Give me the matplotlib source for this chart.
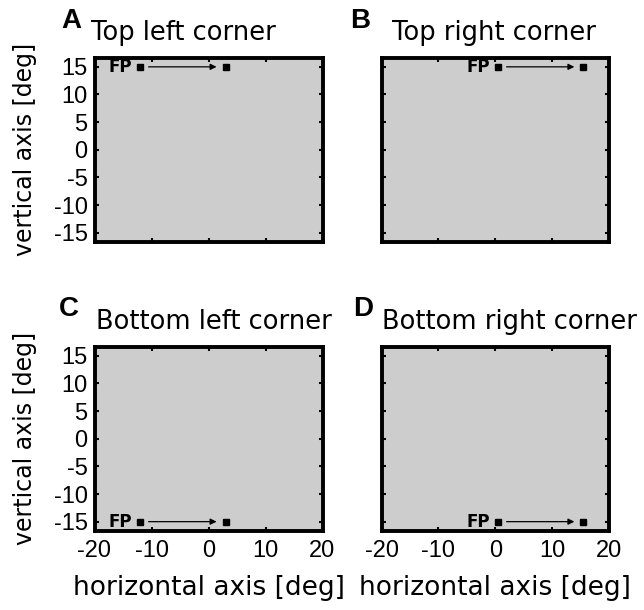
"""Four panels: saccade from fixation point FP to a target in each screen corner."""

import matplotlib
matplotlib.use("Agg")
import matplotlib.pyplot as plt

# panel data
panel_letters = ["A", "B", "C", "D"]
panel_titles = ["Top left corner", "Top right corner",
                "Bottom left corner", "Bottom right corner"]
fp_x = [-12, 0.5, -12, 0.5]
target_x = [3, 15.5, 3, 15.5]
row_y = [15, 15, -15, -15]

x_ticks = [-20, -10, 0, 10, 20]
y_ticks = [-15, -10, -5, 0, 5, 10, 15]
x_lim = (-20, 20)
y_lim = (-16.6, 16.6)


def tick_text(v):
    # MATLAB-style labels use a plain hyphen
    return f"-{abs(v)}" if v < 0 else f"{v}"


W, H = 644, 610
fig = plt.figure(figsize=(W / 100, H / 100), dpi=100)

# axes boxes in pixels: left, top, right, bottom
boxes = [(94.5, 58, 322.5, 241.5), (381.5, 58, 609, 241.5),
         (94.5, 347, 322.5, 530.5), (381.5, 347, 609, 530.5)]
letter_pos = [(61, 21), (350, 21), (59, 309), (353, 309)]
title_pos = [(91, 33), (392, 33), (96, 322), (382, 322)]

tick_font = dict(family="Liberation Sans", size=17)

for i in range(4):
    l, t, r, b = boxes[i]
    ax = fig.add_axes([l / W, 1 - b / H, (r - l) / W, (b - t) / H])
    ax.set_facecolor("#cdcdcd")
    ax.set_xlim(*x_lim)
    ax.set_ylim(*y_lim)
    ax.set_xticks(x_ticks)
    ax.set_yticks(y_ticks)
    ax.tick_params(direction="in", length=3, width=1.5, top=True, right=True,
                   pad=5)
    ax.tick_params(axis="x", pad=7)
    for s in ax.spines.values():
        s.set_linewidth(2.8)
    if i < 2:
        ax.set_xticklabels([])
    else:
        ax.set_xticklabels([tick_text(v) for v in x_ticks], fontdict=tick_font)
        ax.set_xlabel("horizontal axis [deg]", fontsize=19, labelpad=9)
    if i % 2 == 1:
        ax.set_yticklabels([])
    else:
        ax.set_yticklabels([tick_text(v) for v in y_ticks], fontdict=tick_font)
        ax.set_ylabel("vertical axis [deg]", fontsize=17, labelpad=12)

    # fixation point and target
    ax.plot([fp_x[i], target_x[i]], [row_y[i], row_y[i]], "s", color="black",
            markersize=4.5, linestyle="none")
    ax.annotate("", xy=(target_x[i] - 1.1, row_y[i]),
                xytext=(fp_x[i] + 1.0, row_y[i]),
                arrowprops=dict(arrowstyle="-|>", color="black", lw=0.9,
                                mutation_scale=9))
    ax.text(fp_x[i] - 1.4, row_y[i], "FP", fontsize=12, fontweight="bold",
            ha="right", va="center")

    lx, ly = letter_pos[i]
    fig.text(lx / W, 1 - ly / H, panel_letters[i], fontsize=20,
             fontweight="bold", family="Liberation Sans", va="center", ha="left")
    tx, ty = title_pos[i]
    fig.text(tx / W, 1 - ty / H, panel_titles[i], fontsize=18.5, va="center",
             ha="left")

fig.savefig("out.png", dpi=100)
